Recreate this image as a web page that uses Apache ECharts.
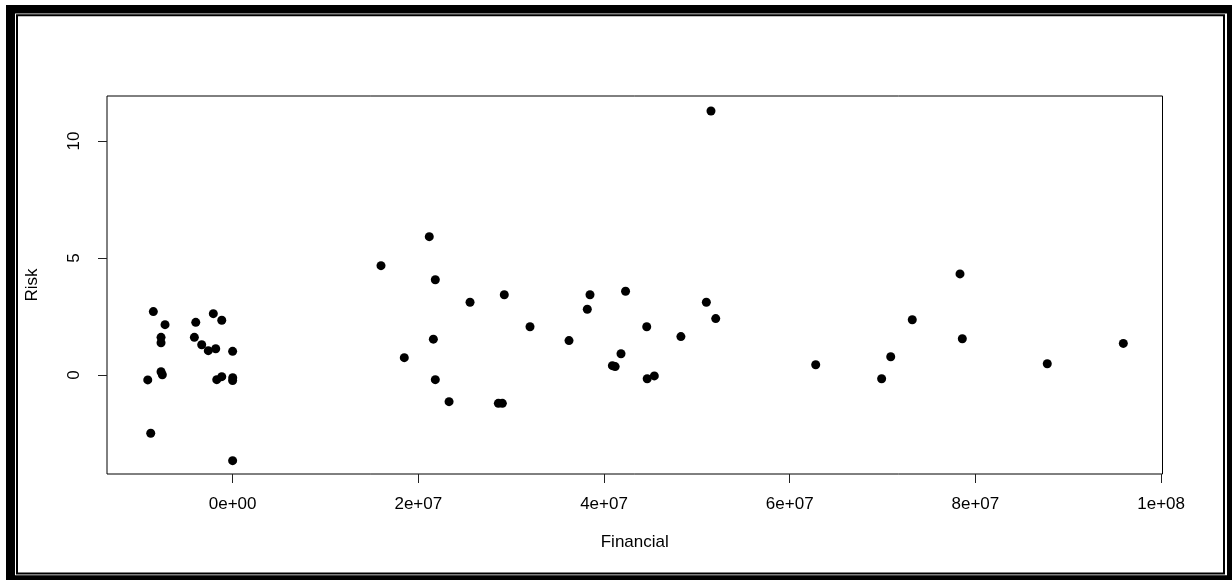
<!DOCTYPE html>
<html>
<head>
<meta charset="utf-8">
<script src="https://cdn.jsdelivr.net/npm/echarts@6/dist/echarts.min.js"></script>
<style>html,body{margin:0;padding:0;background:#fff;}#chart{width:1232px;height:580px;}</style>
</head>
<body>
<div id="chart"></div>
<script>
// Financial (x) values
const financial = [
  -8.54e6, -7.28e6, -7.71e6, -7.71e6, -7.71e6, -7.57e6, -9.14e6, -8.82e6,
  -3.97e6, -4.12e6, -3.33e6, -2.62e6, -1.82e6, -2.08e6, -1.17e6, 0.0e6,
  -1.71e6, -1.17e6, 0.01e6, 0.0e6, 0.0e6,
  2.118e7, 1.598e7, 2.183e7, 2.557e7, 2.926e7, 3.203e7, 3.623e7, 3.849e7,
  3.820e7, 4.232e7, 4.460e7, 4.828e7, 5.102e7, 5.203e7, 2.162e7, 1.849e7,
  2.183e7, 2.331e7, 2.862e7, 2.905e7, 4.183e7, 4.090e7, 4.120e7, 4.465e7,
  4.542e7, 5.152e7,
  6.28e7, 7.32e7, 7.088e7, 6.99e7, 7.834e7, 7.859e7, 8.774e7, 9.593e7
];
// Risk (y) values
const risk = [
  2.71, 2.15, 1.61, 1.38, 0.14, 0.01, -0.21, -2.49,
  2.25, 1.61, 1.29, 1.04, 1.12, 2.62, 2.34, 1.01,
  -0.20, -0.07, -0.12, -0.24, -3.66,
  5.91, 4.67, 4.07, 3.11, 3.43, 2.06, 1.47, 3.43,
  2.81, 3.58, 2.06, 1.64, 3.11, 2.41, 1.53, 0.74,
  -0.20, -1.14, -1.21, -1.21, 0.91, 0.40, 0.36, -0.16,
  -0.04, 11.28,
  0.44, 2.36, 0.78, -0.16, 4.32, 1.55, 0.48, 1.35
];
const xTickValues = [0, 2e7, 4e7, 6e7, 8e7, 1e8];
const xTickLabels = ['0e+00', '2e+07', '4e+07', '6e+07', '8e+07', '1e+08'];
const yTickValues = [0, 5, 10];
const yTickLabels = ['0', '5', '10'];

const points = financial.map((x, i) => [x, risk[i]]);
const font = '"Liberation Sans", Arial, sans-serif';
const fs = 17;

const chart = echarts.init(document.getElementById('chart'), null, {renderer: 'canvas'});
chart.setOption({
  animation: false,
  backgroundColor: '#fff',
  grid: {
    left: 107, right: 69.5, top: 96, bottom: 106,
    show: true, borderColor: '#000', borderWidth: 1, backgroundColor: 'transparent'
  },
  xAxis: {
    type: 'value',
    min: -1.353e7, max: 1.0015e8,
    name: 'Financial', nameLocation: 'middle', nameGap: 60,
    nameTextStyle: {color: '#000', fontSize: fs, fontFamily: font},
    splitLine: {show: false},
    axisLine: {show: false, onZero: false},
    axisTick: {show: true, length: 9, customValues: xTickValues, lineStyle: {color: '#222', width: 1}},
    axisLabel: {
      show: true, margin: 22, color: '#000', fontSize: fs, fontFamily: font,
      customValues: xTickValues,
      formatter: v => { const i = xTickValues.indexOf(v); return i >= 0 ? xTickLabels[i] : ''; }
    }
  },
  yAxis: {
    type: 'value',
    min: -4.23, max: 11.92,
    name: 'Risk', nameLocation: 'middle', nameGap: 66, nameRotate: 90,
    nameTextStyle: {color: '#000', fontSize: fs, fontFamily: font},
    splitLine: {show: false},
    axisLine: {show: false, onZero: false},
    axisTick: {show: true, length: 9, customValues: yTickValues, lineStyle: {color: '#222', width: 1}},
    axisLabel: {
      show: true, margin: 24, rotate: 90, color: '#000', fontSize: fs, fontFamily: font,
      customValues: yTickValues,
      formatter: v => { const i = yTickValues.indexOf(v); return i >= 0 ? yTickLabels[i] : ''; }
    }
  },
  graphic: [
    {type: 'rect', shape: {x: 6, y: 5, width: 9, height: 575}, style: {fill: '#000'}},
    {type: 'rect', shape: {x: 6, y: 5, width: 1226, height: 8.5}, style: {fill: '#000'}},
    {type: 'rect', shape: {x: 1227, y: 5, width: 5, height: 575}, style: {fill: '#000'}},
    {type: 'rect', shape: {x: 6, y: 575.3, width: 1226, height: 4.7}, style: {fill: '#000'}},
    {type: 'rect', shape: {x: 17, y: 15.3, width: 1207, height: 558.2}, style: {fill: 'none', stroke: '#000', lineWidth: 2}}
  ],
  series: [{
    type: 'scatter',
    data: points,
    symbol: 'circle',
    symbolSize: 9,
    itemStyle: {color: '#000', opacity: 1},
    emphasis: {disabled: true}
  }]
});
</script>
</body>
</html>
